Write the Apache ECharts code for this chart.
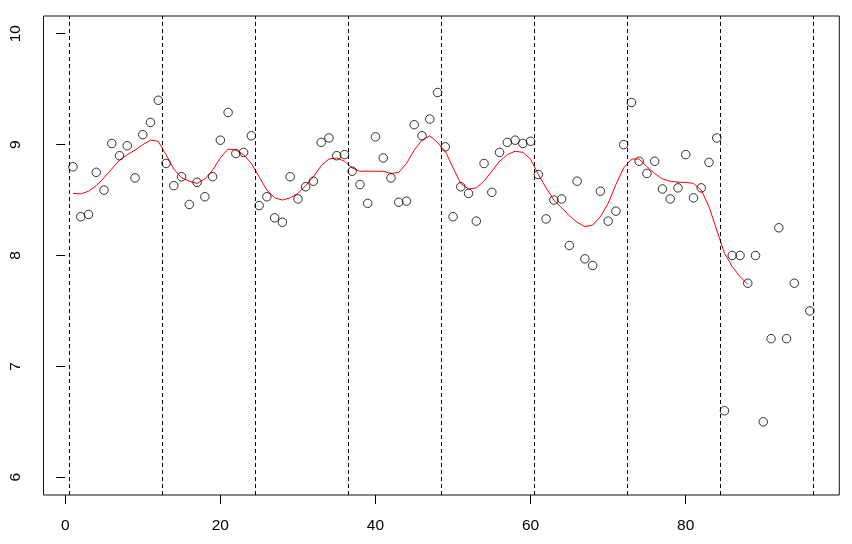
<!DOCTYPE html>
<html>
<head>
<meta charset="utf-8">
<script src="https://cdn.jsdelivr.net/npm/echarts@6/dist/echarts.min.js"></script>
<style>html,body{margin:0;padding:0;background:#fff}#c{width:852px;height:544px}</style>
</head>
<body>
<div id="c"></div>
<script>
// observed values at index 1..96 (95 missing)
var obsValues = [8.80,8.35,8.37,8.75,8.59,9.01,8.90,8.99,8.70,9.09,9.20,9.40,
  8.83,8.63,8.71,8.46,8.66,8.53,8.71,9.04,9.29,8.92,8.93,9.08,
  8.45,8.53,8.34,8.30,8.71,8.51,8.62,8.67,9.02,9.06,8.90,8.91,
  8.76,8.64,8.47,9.07,8.88,8.70,8.48,8.49,9.18,9.08,9.23,9.47,
  8.98,8.35,8.62,8.56,8.31,8.83,8.57,8.93,9.02,9.04,9.01,9.03,
  8.73,8.33,8.50,8.51,8.09,8.67,7.97,7.91,8.58,8.31,8.40,9.00,
  9.38,8.85,8.74,8.85,8.60,8.51,8.61,8.91,8.52,8.61,8.84,9.06,
  6.60,8.00,8.00,7.75,8.00,6.50,7.25,8.25,7.25,7.75,null,7.50];
// smoothed trend at index 1..88
var smoothValues = [8.56,8.555,8.58,8.63,8.70,8.78,8.86,8.91,8.95,9.00,9.04,9.03,
  8.91,8.78,8.70,8.67,8.65,8.69,8.77,8.88,8.96,8.95,8.91,8.83,
  8.71,8.59,8.52,8.50,8.52,8.56,8.63,8.71,8.81,8.87,8.88,8.85,
  8.79,8.76,8.76,8.76,8.76,8.74,8.75,8.83,8.95,9.04,9.08,9.02,
  8.94,8.79,8.65,8.60,8.61,8.67,8.76,8.85,8.91,8.94,8.93,8.87,
  8.73,8.61,8.50,8.43,8.36,8.30,8.26,8.275,8.35,8.47,8.64,8.79,
  8.87,8.87,8.80,8.74,8.69,8.67,8.66,8.66,8.65,8.59,8.44,8.23,
  8.02,7.90,7.81,7.74];
var breakPositions = [0.5,12.5,24.5,36.5,48.5,60.5,72.5,84.5,96.5];
var xTicks = [0,20,40,60,80];
var yTicks = [6,7,8,9,10];

var obsData = [];
obsValues.forEach(function(v,i){ if(v!==null) obsData.push([i+1,v]); });
var smoothData = smoothValues.map(function(v,i){ return [i+1,v]; });

var xMin = 1 - 0.04*95, xMax = 96 + 0.04*95;
var yMin = 6 - 0.04*4, yMax = 10 + 0.04*4;

var font = {fontFamily:'Liberation Sans, Arial, sans-serif', fontSize:15.5, color:'#000'};
var chart = echarts.init(document.getElementById('c'), null, {renderer:'canvas'});
chart.setOption({
  animation:false,
  backgroundColor:'#fff',
  grid:{left:43.5,right:12.7,top:16,bottom:49,show:true,borderColor:'#111',borderWidth:1,
        backgroundColor:'transparent',containLabel:false,outerBoundsMode:'none'},
  xAxis:{type:'value',min:xMin,max:xMax,
    axisLine:{show:false},
    splitLine:{show:false},
    axisTick:{show:true,inside:false,length:9,customValues:xTicks,lineStyle:{color:'#000',width:1}},
    axisLabel:Object.assign({margin:23,customValues:xTicks},font)
  },
  yAxis:{type:'value',min:yMin,max:yMax,
    axisLine:{show:false},
    splitLine:{show:false},
    axisTick:{show:true,inside:false,length:9,customValues:yTicks,lineStyle:{color:'#000',width:1}},
    axisLabel:Object.assign({margin:20,rotate:90,customValues:yTicks},font)
  },
  series:[
    {type:'line',data:[],silent:true,
     markLine:{silent:true,symbol:['none','none'],label:{show:false},
       lineStyle:{color:'#000',type:[4,3],width:1},
       data:breakPositions.map(function(p){return {xAxis:p};})}},
    {type:'line',data:smoothData,showSymbol:false,smooth:false,
     lineStyle:{color:'#ff0000',width:1},itemStyle:{color:'#ff0000'},z:3},
    {type:'scatter',data:obsData,symbol:'circle',symbolSize:8.5,
     itemStyle:{color:'rgba(0,0,0,0)',borderColor:'#000',borderWidth:1},z:4}
  ]
});
</script>
</body>
</html>
